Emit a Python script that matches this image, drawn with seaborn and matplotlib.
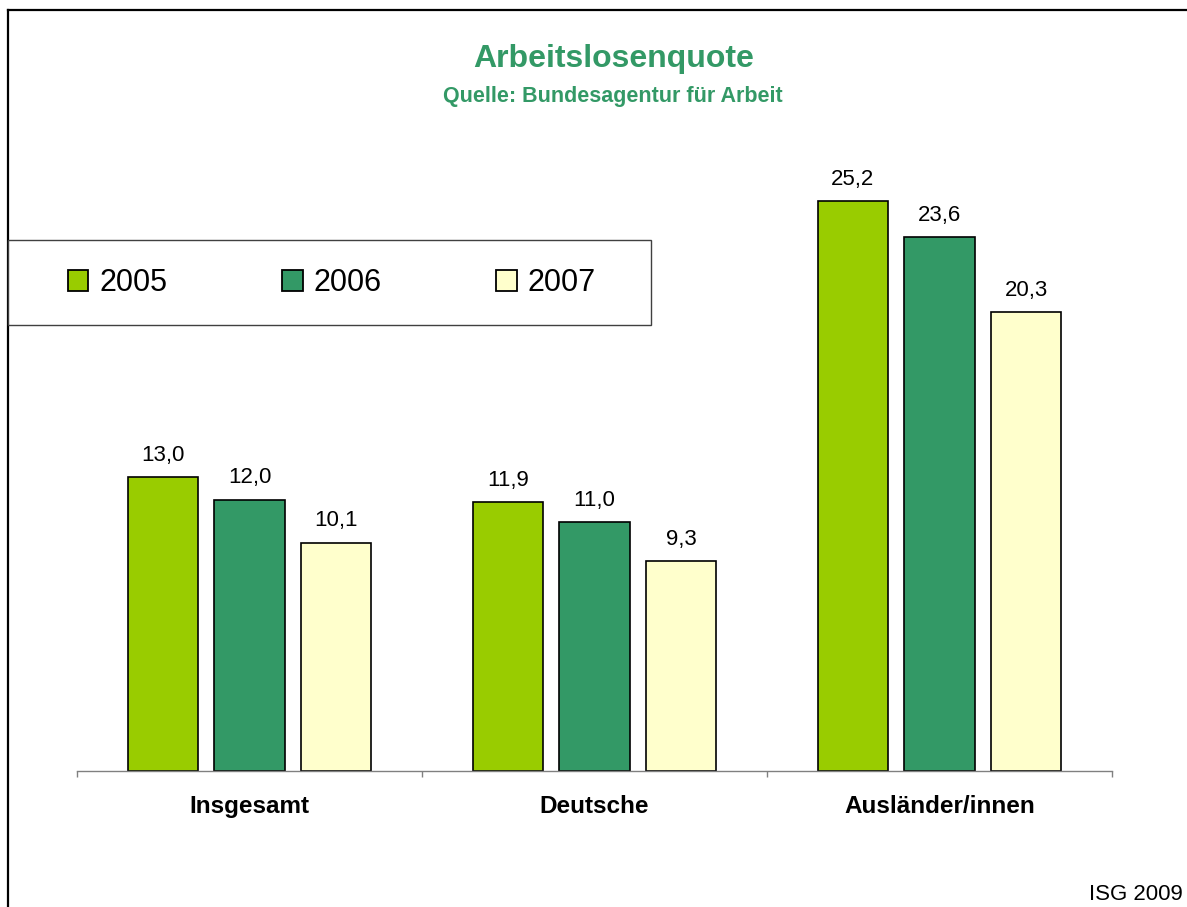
import matplotlib
matplotlib.use("Agg")
import matplotlib.pyplot as plt
from matplotlib.patches import Patch, Rectangle
from matplotlib.lines import Line2D
import seaborn as sns
import pandas as pd

categories = ["Insgesamt", "Deutsche", "Ausländer/innen"]
years = ["2005", "2006", "2007"]
v2005 = [13.0, 11.9, 25.2]
v2006 = [12.0, 11.0, 23.6]
v2007 = [10.1, 9.3, 20.3]
colors = ["#99CC00", "#339966", "#FFFFCC"]
title = "Arbeitslosenquote"
subtitle = "Quelle: Bundesagentur für Arbeit"
note = "ISG 2009"

plt.rcParams["font.family"] = ["Liberation Sans", "DejaVu Sans"]

rows = []
for yr, vals in zip(years, [v2005, v2006, v2007]):
    for c, v in zip(categories, vals):
        rows.append({"cat": c, "year": yr, "val": v})
df = pd.DataFrame(rows)

W, H = 1187, 907
fig = plt.figure(figsize=(W / 100, H / 100), dpi=100)
fig.patch.set_facecolor("white")

ax = fig.add_axes([77 / W, 136 / H, 1035 / W, 30 * 22.62 / H])
sns.barplot(data=df, x="cat", y="val", hue="year", hue_order=years,
            order=categories, palette=colors, saturation=1,
            width=0.753, gap=0.19, edgecolor="black", linewidth=1.2,
            ax=ax, legend=False)

for cont in ax.containers:
    labs = [f"{b.get_height():.1f}".replace(".", ",") for b in cont]
    ax.bar_label(cont, labels=labs, padding=8, fontsize=16)

ax.set_xlim(-0.5, 2.5)
ax.set_ylim(0, 30)
ax.set_facecolor("none")
for s in ["left", "right", "top"]:
    ax.spines[s].set_visible(False)
ax.spines["bottom"].set_color("#808080")
ax.spines["bottom"].set_linewidth(1.0)
ax.set_yticks([])
ax.set_xlabel("")
ax.set_ylabel("")
ax.set_xticks(range(len(categories)))
ax.set_xticklabels(categories, fontsize=17.5, fontweight="bold")
ax.tick_params(axis="x", which="major", length=0, pad=17)
ax.set_xticks([-0.5, 0.5, 1.5, 2.5], minor=True)
ax.tick_params(axis="x", which="minor", length=4, width=1, color="#808080")

# outer frame lines
fig.add_artist(Line2D([8 / W, 1.0], [1 - 10 / H, 1 - 10 / H], color="black", lw=1.6,
                      transform=fig.transFigure))
fig.add_artist(Line2D([8 / W, 8 / W], [0, 1 - 10 / H], color="black", lw=1.6,
                      transform=fig.transFigure))

# legend box
fig.add_artist(Rectangle((8 / W, 1 - 325 / H), (651 - 8) / W, 85 / H,
                         transform=fig.transFigure, facecolor="white",
                         edgecolor="#404040", lw=1.0, zorder=2))
handles = [Patch(facecolor=c, edgecolor="black", linewidth=1.3) for c in colors]
leg = fig.legend(handles, years, loc="center left",
                 bbox_to_anchor=(68 / W, 1 - 283 / H), ncol=3, frameon=False,
                 fontsize=22, handlelength=0.67, handleheight=0.67,
                 handletextpad=0.36, columnspacing=3.75, borderpad=0,
                 borderaxespad=0)
leg.set_zorder(3)

fig.text(614 / W, 1 - 67 / H, title, ha="center", va="baseline",
         fontsize=23, fontweight="bold", color="#339966")
fig.text(613 / W, 1 - 102 / H, subtitle, ha="center", va="baseline",
         fontsize=15.5, fontweight="bold", color="#339966")
fig.text(1183 / W, 1 - 900 / H, note, ha="right", va="baseline",
         fontsize=16, color="black")

fig.savefig("out.png", dpi=100)
